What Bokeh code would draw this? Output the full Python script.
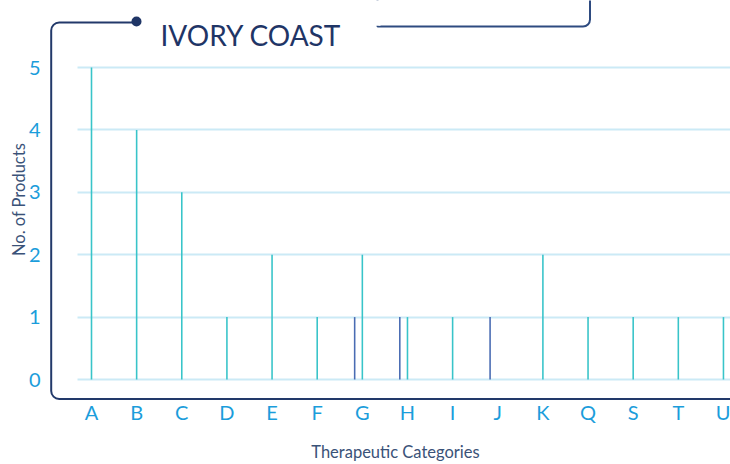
from bokeh.plotting import figure
from bokeh.models import Range1d, FixedTicker, BoxAnnotation, ColumnDataSource, Label
from bokeh.embed import file_html
from bokeh.resources import INLINE

categories = ["A", "B", "C", "D", "E", "F", "G", "H", "I", "J", "K", "Q", "S", "T", "U"]
teal_values = [5, 4, 3, 1, 2, 1, 2, 1, 1, 0, 2, 1, 1, 1, 1]
navy_values = [0, 0, 0, 0, 0, 0, 1, 1, 0, 1, 0, 0, 0, 0, 0]
y_ticks = [0, 1, 2, 3, 4, 5]
title_text = "IVORY COAST"
x_title = "Therapeutic Categories"
y_title = "No. of Products"

FONT = "Lato"
TEAL = "#38c4c9"
NAVY_BAR = "#4a6cb3"
FRAME_C = "#22396a"
LABEL_C = "#1b9ddb"
TITLE_C = "#3a5278"

# layout helpers: page pixel -> data coordinate (frame fills the whole canvas)
X0_PX, X_STEP = 91.0, 45.14     # page x of first category, px per category
Y0_PX, Y_STEP = 379.0, 62.4     # page y of value 0, px per unit
def dx(px):
    return (px - X0_PX) / X_STEP
def dy(py):
    return (Y0_PX - py) / Y_STEP

idx = list(range(len(categories)))
src = ColumnDataSource(dict(
    x=idx,
    xn=[i - 0.17 for i in idx],
    teal=teal_values,
    navy=navy_values,
))

W, H = 730, 464
p = figure(width=W, height=H, output_backend="svg", toolbar_location=None,
           x_range=Range1d(dx(0), dx(W)), y_range=Range1d(dy(H), dy(0)),
           min_border=0, outline_line_color=None)

p.vbar(x="x", top="teal", bottom=0, width=0.035, source=src,
       fill_color=TEAL, line_color=None)
p.vbar(x="xn", top="navy", bottom=0, width=0.035, source=src,
       fill_color=NAVY_BAR, line_color=None)

# axes (drawn at fixed positions inside the canvas)
p.xaxis.ticker = FixedTicker(ticks=idx)
p.xaxis.major_label_overrides = {i: c for i, c in zip(idx, categories)}
p.yaxis.ticker = FixedTicker(ticks=y_ticks)
for ax in (p.xaxis[0], p.yaxis[0]):
    ax.axis_line_color = None
    ax.major_tick_line_color = None
    ax.minor_tick_line_color = None
    ax.major_tick_out = 0
    ax.major_tick_in = 0
    ax.minor_tick_out = 0
    ax.minor_tick_in = 0
    ax.major_label_text_font = FONT
    ax.major_label_text_font_size = "20px"
    ax.major_label_text_color = LABEL_C
    ax.axis_label_text_font = FONT
    ax.axis_label_text_font_size = "16.5px"
    ax.axis_label_text_font_style = "normal"
    ax.axis_label_text_color = TITLE_C
p.xaxis.axis_label = x_title
p.yaxis.axis_label = y_title
p.xaxis.fixed_location = dy(388)
p.yaxis.fixed_location = dx(77)
xc, yc = dx(395), dy(199)
p.xaxis.bounds = (2 * xc - 14.05, 14.05)
p.yaxis.bounds = (-0.1, 2 * yc + 0.1)
p.xaxis.major_label_standoff = 11
p.xaxis.axis_label_standoff = 15
p.yaxis.major_label_standoff = 37
p.yaxis.axis_label_standoff = -3

p.xgrid.visible = False
p.ygrid.ticker = FixedTicker(ticks=y_ticks)
p.ygrid.grid_line_color = "#cbeaf6"
p.ygrid.grid_line_width = 2
p.ygrid.bounds = (-0.5, 5.5)
p.ygrid.cross_bounds = (dx(77), dx(800))

# decorative frame
def box(**kw):
    b = BoxAnnotation(level="annotation", **kw)
    p.add_layout(b)
    return b

box(left=dx(50.7), right=dx(900), top=dy(22), bottom=dy(398.5),
    border_radius=(8, 0, 0, 8), fill_color=None, fill_alpha=0,
    line_color=FRAME_C, line_alpha=1, line_width=2)
box(left=dx(137), right=dx(900), top=dy(-20), bottom=dy(23.8),
    fill_color="white", fill_alpha=1, line_alpha=0)
box(left=dx(377), right=dx(589.5), top=dy(-60), bottom=dy(26),
    border_radius=(0, 0, 7, 0), fill_color=None, fill_alpha=0,
    line_color="#2e4b80", line_alpha=1, line_width=2)
box(left=dx(372), right=dx(380), top=dy(-20), bottom=dy(25.2),
    fill_color="white", fill_alpha=1, line_alpha=0)
box(left=dx(131), right=dx(141), top=dy(16), bottom=dy(26), border_radius=5,
    fill_color="#1f3566", fill_alpha=1, line_alpha=0)

title = Label(x=dx(160), y=dy(34), text=title_text, text_font=FONT,
              text_font_size="28px", text_color="#1f3566",
              text_baseline="alphabetic", text_align="left", level="overlay")
p.add_layout(title)

open("out.html", "w").write(file_html(p, INLINE))
